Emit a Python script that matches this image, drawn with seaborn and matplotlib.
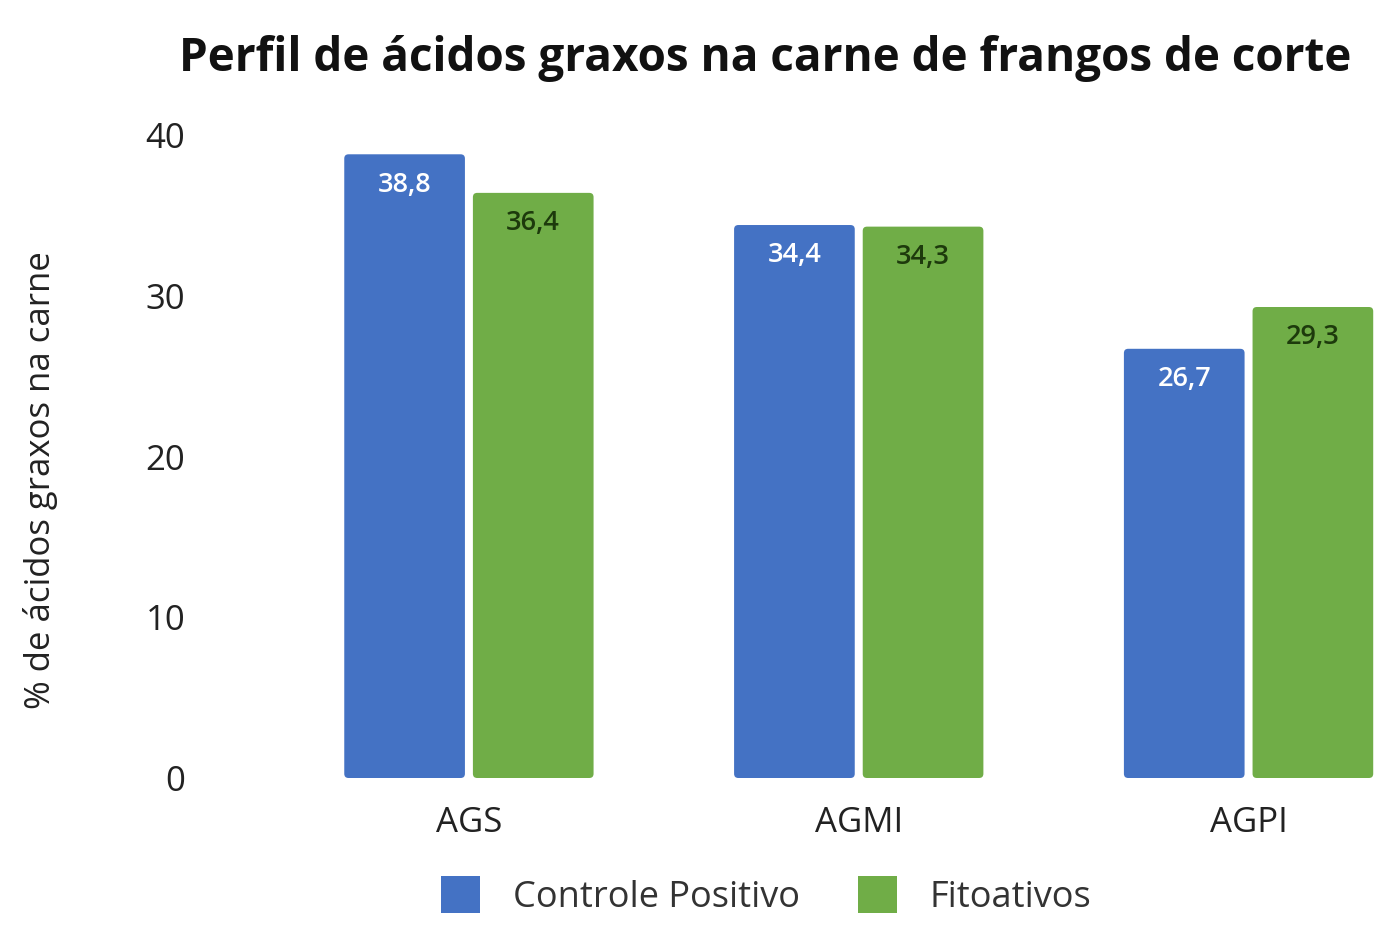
import matplotlib
matplotlib.use("Agg")
import matplotlib.pyplot as plt
import seaborn as sns
import pandas as pd
from matplotlib.patches import Patch, FancyBboxPatch

categories = ["AGS", "AGMI", "AGPI"]
series_names = ["Controle Positivo", "Fitoativos"]
controle = [38.8, 34.4, 26.7]
fitoativos = [36.4, 34.3, 29.3]
y_ticks = [0, 10, 20, 30, 40]

colors = {"Controle Positivo": "#4472C4", "Fitoativos": "#70AD47"}
label_colors = {"Controle Positivo": "white", "Fitoativos": "#1d3a0c"}

df = pd.DataFrame({
    "cat": categories * 2,
    "serie": [series_names[0]] * 3 + [series_names[1]] * 3,
    "val": controle + fitoativos,
})

sns.set_theme(style="white")
plt.rcParams["font.family"] = ["Open Sans", "DejaVu Sans"]

fig = plt.figure(figsize=(14, 9.31), dpi=100)
W, H = 1400, 931
ax = fig.add_axes([274 / W, (H - 778) / H, (1385 - 274) / W, (778 - 135) / H])

sns.barplot(data=df, x="cat", y="val", hue="serie", palette=colors,
            width=0.66, gap=0.062, ax=ax, legend=False, saturation=1)

ax.set_xlim(-0.5, 2.35)
ax.set_ylim(0, 40)

# rounded corners: draw rounded copies over the seaborn bars' geometry
for cont in ax.containers:
    for bar in cont:
        x, y = bar.get_x(), bar.get_y()
        w, h = bar.get_width(), bar.get_height()
        rb = FancyBboxPatch((x, y), w, h,
                            boxstyle="round,pad=0,rounding_size=0.011",
                            mutation_aspect=24, facecolor=bar.get_facecolor(),
                            edgecolor="none", zorder=bar.get_zorder())
        ax.add_patch(rb)
        bar.set_visible(False)

ax.set_yticks(y_ticks)
ax.set_yticklabels([str(t) for t in y_ticks])
for s in ax.spines.values():
    s.set_visible(False)
ax.tick_params(axis="y", labelsize=25, colors="#222222", pad=64, length=0)
ax.tick_params(axis="x", labelsize=25, colors="#222222", pad=20, length=0)
ax.set_xlabel("")
ax.set_ylabel("% de ácidos graxos na carne", fontsize=25, color="#222222")
ax.yaxis.set_label_coords(58 / W, 1 - 480 / H, transform=fig.transFigure)

for cont, name in zip(ax.containers, series_names):
    labels = [f"{v:.1f}".replace(".", ",") for v in cont.datavalues]
    ax.bar_label(cont, labels=labels, padding=-32, color=label_colors[name],
                 fontsize=19.5, fontweight="semibold")

fig.text(765 / W, 1 - 58 / H, "Perfil de ácidos graxos na carne de frangos de corte",
         ha="center", va="center", fontsize=33, fontweight="bold", color="#111111")

handles = [Patch(facecolor=colors[n], edgecolor="none") for n in series_names]
fig.legend(handles, series_names, loc="center", bbox_to_anchor=(766 / W, 1 - 896 / H),
           ncol=2, frameon=False, fontsize=26, handlelength=1.1, handleheight=1.2,
           columnspacing=1.6, handletextpad=0.9, labelcolor="#333333")

fig.savefig("out.png", dpi=100, facecolor="white")
